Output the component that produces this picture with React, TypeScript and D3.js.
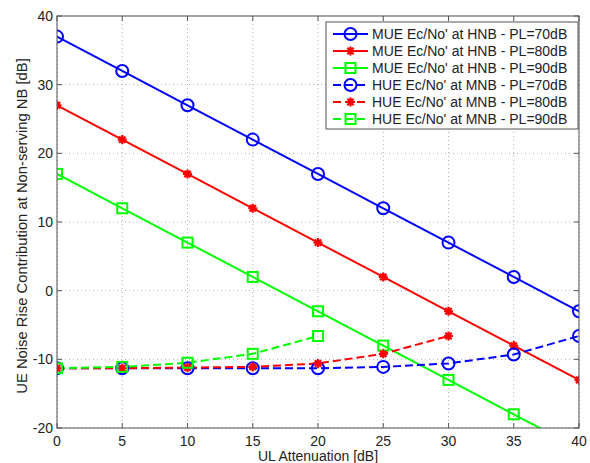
import React from "react";
import * as d3 from "d3";

const xs = [0, 5, 10, 15, 20, 25, 30, 35, 40];
const mue70 = [37, 32, 27, 22, 17, 12, 7, 2, -3];
const mue80 = [27, 22, 17, 12, 7, 2, -3, -8, -13];
const mue90 = [17, 12, 7, 2, -3, -8, -13, -18, -23];
const hue70 = [-11.3, -11.3, -11.3, -11.3, -11.3, -11.1, -10.6, -9.3, -6.6];
const hue80 = [-11.3, -11.3, -11.2, -11.1, -10.6, -9.2, -6.6];
const hue90 = [-11.3, -11.1, -10.5, -9.2, -6.6];
const xTicks = [0, 5, 10, 15, 20, 25, 30, 35, 40];
const yTicks = [-20, -10, 0, 10, 20, 30, 40];
const labels = [
  "MUE Ec/No' at HNB - PL=70dB",
  "MUE Ec/No' at HNB - PL=80dB",
  "MUE Ec/No' at HNB - PL=90dB",
  "HUE Ec/No' at MNB - PL=70dB",
  "HUE Ec/No' at MNB - PL=80dB",
  "HUE Ec/No' at MNB - PL=90dB",
];

const W = 590, H = 463;
const L = 57, R = 579, T = 16, B = 428;
const FONT = "Liberation Sans, Arial, sans-serif";

const series = [
  { v: mue70, color: "#0000ff", dash: null, marker: "o" },
  { v: mue80, color: "#ff0000", dash: null, marker: "*" },
  { v: mue90, color: "#00ff00", dash: null, marker: "s" },
  { v: hue70, color: "#0000ff", dash: "8,4", marker: "o" },
  { v: hue80, color: "#ff0000", dash: "8,4", marker: "*" },
  { v: hue90, color: "#00ff00", dash: "8,4", marker: "s" },
];

function Marker({ type, x, y, color }: { type: string; x: number; y: number; color: string }) {
  if (type === "o") return <circle cx={x} cy={y} r={6} fill="none" stroke={color} strokeWidth={2} />;
  if (type === "s") return <rect x={x - 5} y={y - 5} width={10} height={10} fill="none" stroke={color} strokeWidth={2} />;
  const r = 4.5;
  const paths = [0, 45, 90, 135].map((a) => {
    const rad = (a * Math.PI) / 180;
    const dx = r * Math.cos(rad), dy = r * Math.sin(rad);
    return `M${x - dx},${y - dy}L${x + dx},${y + dy}`;
  });
  return <path d={paths.join("")} stroke={color} strokeWidth={2.2} />;
}

export default function App() {
  const x = d3.scaleLinear().domain([0, 40]).range([L, R]);
  const y = d3.scaleLinear().domain([-20, 40]).range([B, T]);
  const line = d3.line<number>().x((_, i) => x(xs[i])).y((d) => y(d));
  return (
    <svg width={W} height={H} style={{ position: "absolute", left: 0, top: 0, background: "#fff" }}>
      <defs>
        <clipPath id="clip">
          <rect x={L} y={T} width={R - L} height={B - T} />
        </clipPath>
      </defs>
      <rect x={0} y={0} width={W} height={H} fill="#fff" />
      {xTicks.map((t) => (
        <line key={"gx" + t} x1={x(t)} x2={x(t)} y1={T} y2={B} stroke="#b0b0b0" strokeWidth={1} strokeDasharray="1,3" />
      ))}
      {yTicks.map((t) => (
        <line key={"gy" + t} x1={L} x2={R} y1={y(t)} y2={y(t)} stroke="#b0b0b0" strokeWidth={1} strokeDasharray="1,3" />
      ))}
      <g clipPath="url(#clip)">
        {series.map((s, i) => (
          <path key={"l" + i} d={line(s.v) || ""} fill="none" stroke={s.color} strokeWidth={2} strokeDasharray={s.dash || undefined} />
        ))}
        {series.map((s, i) =>
          s.v.map((v, j) => <Marker key={"m" + i + "-" + j} type={s.marker} x={x(xs[j])} y={y(v)} color={s.color} />)
        )}
      </g>
      <rect x={L} y={T} width={R - L} height={B - T} fill="none" stroke="#555" strokeWidth={1} />
      {xTicks.map((t) => (
        <g key={"tx" + t}>
          <line x1={x(t)} x2={x(t)} y1={B} y2={B - 5} stroke="#555" />
          <line x1={x(t)} x2={x(t)} y1={T} y2={T + 5} stroke="#555" />
          <text x={x(t)} y={B + 18} textAnchor="middle" fontSize={14} fontFamily={FONT} fill="#222">{t}</text>
        </g>
      ))}
      {yTicks.map((t) => (
        <g key={"ty" + t}>
          <line x1={L} x2={L + 5} y1={y(t)} y2={y(t)} stroke="#555" />
          <line x1={R} x2={R - 5} y1={y(t)} y2={y(t)} stroke="#555" />
          <text x={L - 4} y={y(t) + 5} textAnchor="end" fontSize={14} fontFamily={FONT} fill="#222">{t}</text>
        </g>
      ))}
      <text x={318} y={461} textAnchor="middle" fontSize={14} fontFamily={FONT} fill="#222">UL Attenuation [dB]</text>
      <text transform={`translate(27,226) rotate(-90)`} textAnchor="middle" fontSize={14.8} fontFamily={FONT} fill="#222">
        UE Noise Rise Contribution at Non-serving NB [dB]
      </text>
      <g>
        <rect x={326} y={22} width={252} height={107} fill="#fff" stroke="#555" strokeWidth={1} />
        {series.map((s, i) => {
          const ly = 34 + i * 17;
          return (
            <g key={"lg" + i}>
              <line x1={333} x2={368} y1={ly} y2={ly} stroke={s.color} strokeWidth={2} strokeDasharray={s.dash || undefined} />
              <Marker type={s.marker} x={350.5} y={ly} color={s.color} />
              <text x={372} y={ly + 5} fontSize={14} fontFamily={FONT} fill="#222">{labels[i]}</text>
            </g>
          );
        })}
      </g>
    </svg>
  );
}
